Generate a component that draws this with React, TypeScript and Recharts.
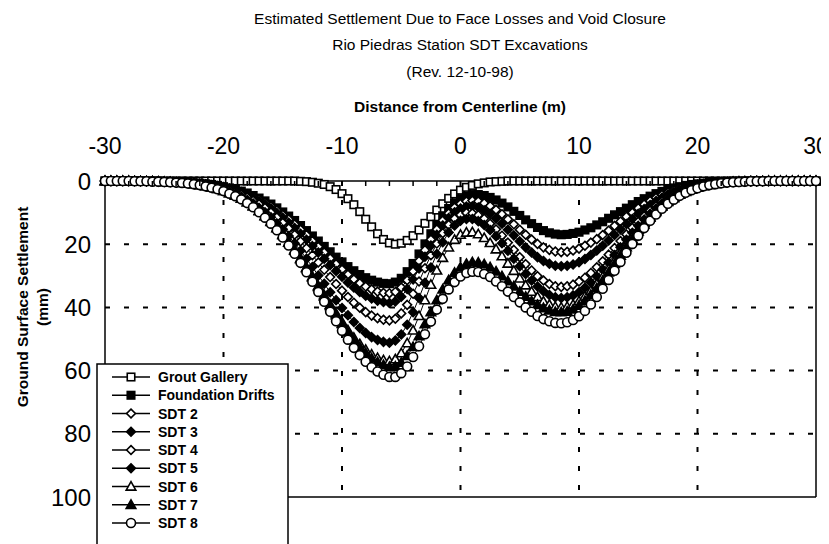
import React from 'react';
import { LineChart, Line, XAxis, YAxis, CartesianGrid, ReferenceLine } from 'recharts';

const FONT = '"Liberation Sans", Arial, Helvetica, sans-serif';

// Distance from centerline (m)
const distance = [
  -30, -29.5, -29, -28.5, -28, -27.5, -27, -26.5, -26, -25.5,
  -25, -24.5, -24, -23.5, -23, -22.5, -22, -21.5, -21, -20.5,
  -20, -19.5, -19, -18.5, -18, -17.5, -17, -16.5, -16, -15.5,
  -15, -14.5, -14, -13.5, -13, -12.5, -12, -11.5, -11, -10.5,
  -10, -9.5, -9, -8.5, -8, -7.5, -7, -6.5, -6, -5.5,
  -5, -4.5, -4, -3.5, -3, -2.5, -2, -1.5, -1, -0.5,
  0, 0.5, 1, 1.5, 2, 2.5, 3, 3.5, 4, 4.5,
  5, 5.5, 6, 6.5, 7, 7.5, 8, 8.5, 9, 9.5,
  10, 10.5, 11, 11.5, 12, 12.5, 13, 13.5, 14, 14.5,
  15, 15.5, 16, 16.5, 17, 17.5, 18, 18.5, 19, 19.5,
  20, 20.5, 21, 21.5, 22, 22.5, 23, 23.5, 24, 24.5,
  25, 25.5, 26, 26.5, 27, 27.5, 28, 28.5, 29, 29.5, 30,
];

// Settlement (mm)
const groutGallery = [
  0, 0, 0, 0, 0, 0, 0, 0, 0, 0,
  0, 0, 0, 0, 0, 0, 0, 0, 0, 0,
  0, 0, 0, 0, 0, 0, 0, 0, 0, 0,
  0, 0, 0, 0.1, 0.2, 0.4, 0.7, 1.1, 1.8, 2.7,
  4.0, 5.6, 7.5, 9.7, 12.1, 14.5, 16.7, 18.5, 19.6, 20.0,
  19.7, 18.8, 17.3, 15.5, 13.4, 11.3, 9.2, 7.2, 5.5, 4.1,
  2.9, 2.0, 1.4, 0.9, 0.6, 0.3, 0.2, 0.1, 0, 0,
  0, 0, 0, 0, 0, 0, 0, 0, 0, 0,
  0, 0, 0, 0, 0, 0, 0, 0, 0, 0,
  0, 0, 0, 0, 0, 0, 0, 0, 0, 0,
  0, 0, 0, 0, 0, 0, 0, 0, 0, 0,
  0, 0, 0, 0, 0, 0, 0, 0, 0, 0, 0,
];

const foundationDrifts = [
  0, 0, 0, 0, 0, 0, 0, 0.1, 0.1, 0.1,
  0.2, 0.2, 0.3, 0.3, 0.4, 0.6, 0.7, 0.9, 1.1, 1.4,
  1.8, 2.2, 2.6, 3.2, 3.8, 4.6, 5.4, 6.3, 7.3, 8.5,
  9.8, 11.1, 12.5, 14.1, 15.7, 17.4, 19.0, 20.7, 22.4, 24.1,
  25.6, 27.1, 28.4, 29.6, 30.6, 31.4, 32.0, 32.4, 32.5, 32.0,
  30.8, 28.7, 26.1, 23.1, 19.9, 16.7, 13.7, 11.0, 8.7, 6.9,
  5.6, 4.8, 4.3, 4.3, 4.6, 5.2, 6.0, 7.0, 8.2, 9.6,
  10.9, 12.3, 13.5, 14.7, 15.7, 16.4, 16.8, 17.0, 16.9, 16.6,
  16.2, 15.5, 14.8, 13.9, 12.9, 11.8, 10.7, 9.7, 8.6, 7.5,
  6.5, 5.6, 4.8, 4.0, 3.3, 2.7, 2.2, 1.8, 1.4, 1.1,
  0.9, 0.7, 0.5, 0.4, 0.3, 0.2, 0.1, 0.1, 0.1, 0,
  0, 0, 0, 0, 0, 0, 0, 0, 0, 0, 0,
];

const sdt2 = [
  0, 0, 0, 0, 0, 0, 0, 0.1, 0.1, 0.1,
  0.2, 0.2, 0.3, 0.4, 0.5, 0.6, 0.8, 1.0, 1.3, 1.6,
  1.9, 2.4, 2.9, 3.5, 4.2, 5.0, 5.9, 6.9, 8.0, 9.3,
  10.7, 12.1, 13.7, 15.4, 17.1, 19.0, 20.8, 22.6, 24.5, 26.3,
  28.0, 29.6, 31.1, 32.3, 33.4, 34.3, 35.0, 35.4, 35.5, 35.1,
  33.7, 31.4, 28.6, 25.3, 21.9, 18.5, 15.3, 12.5, 10.2, 8.4,
  7.2, 6.4, 6.2, 6.4, 7.0, 7.9, 9.1, 10.5, 12.1, 13.7,
  15.4, 17.0, 18.5, 19.9, 21.0, 21.8, 22.3, 22.5, 22.4, 22.0,
  21.4, 20.5, 19.5, 18.4, 17.1, 15.7, 14.2, 12.8, 11.3, 10.0,
  8.6, 7.4, 6.3, 5.3, 4.4, 3.6, 2.9, 2.3, 1.9, 1.5,
  1.1, 0.9, 0.7, 0.5, 0.4, 0.3, 0.2, 0.1, 0.1, 0.1,
  0, 0, 0, 0, 0, 0, 0, 0, 0, 0, 0,
];

const sdt3 = [
  0, 0, 0, 0, 0, 0, 0, 0.1, 0.1, 0.1,
  0.2, 0.2, 0.3, 0.4, 0.5, 0.7, 0.9, 1.1, 1.4, 1.7,
  2.1, 2.6, 3.1, 3.8, 4.5, 5.4, 6.4, 7.5, 8.7, 10.1,
  11.6, 13.2, 14.9, 16.7, 18.6, 20.6, 22.6, 24.6, 26.6, 28.5,
  30.3, 32.1, 33.7, 35.1, 36.3, 37.2, 37.9, 38.3, 38.6, 38.1,
  36.6, 34.2, 31.2, 27.7, 24.0, 20.4, 17.0, 14.1, 11.7, 9.9,
  8.7, 8.1, 8.0, 8.4, 9.3, 10.4, 11.9, 13.5, 15.4, 17.2,
  19.1, 21.0, 22.6, 24.1, 25.3, 26.2, 26.8, 27.0, 26.8, 26.4,
  25.7, 24.7, 23.4, 22.0, 20.5, 18.8, 17.1, 15.3, 13.6, 12.0,
  10.4, 8.9, 7.6, 6.3, 5.3, 4.3, 3.5, 2.8, 2.2, 1.7,
  1.4, 1.0, 0.8, 0.6, 0.4, 0.3, 0.2, 0.2, 0.1, 0.1,
  0.1, 0, 0, 0, 0, 0, 0, 0, 0, 0, 0,
];

const sdt4 = [
  0, 0, 0, 0, 0, 0, 0.1, 0.1, 0.1, 0.2,
  0.2, 0.3, 0.4, 0.5, 0.6, 0.8, 1.0, 1.2, 1.6, 1.9,
  2.4, 2.9, 3.6, 4.3, 5.2, 6.2, 7.3, 8.5, 9.9, 11.5,
  13.2, 15.0, 17.0, 19.1, 21.3, 23.5, 25.8, 28.1, 30.4, 32.6,
  34.7, 36.7, 38.5, 40.1, 41.5, 42.6, 43.4, 43.9, 44.1, 43.6,
  41.9, 39.2, 35.7, 31.8, 27.6, 23.5, 19.8, 16.5, 13.9, 11.9,
  10.7, 10.1, 10.2, 10.8, 11.9, 13.5, 15.3, 17.3, 19.5, 21.8,
  24.1, 26.3, 28.3, 30.1, 31.5, 32.6, 33.3, 33.5, 33.3, 32.8,
  31.8, 30.6, 29.1, 27.3, 25.4, 23.3, 21.2, 19.0, 16.9, 14.8,
  12.9, 11.1, 9.4, 7.9, 6.5, 5.4, 4.4, 3.5, 2.8, 2.2,
  1.7, 1.3, 1.0, 0.7, 0.5, 0.4, 0.3, 0.2, 0.1, 0.1,
  0.1, 0, 0, 0, 0, 0, 0, 0, 0, 0, 0,
];

const sdt5 = [
  0, 0, 0, 0, 0, 0, 0.1, 0.1, 0.1, 0.2,
  0.2, 0.3, 0.4, 0.5, 0.7, 0.9, 1.1, 1.4, 1.8, 2.2,
  2.8, 3.4, 4.1, 5.0, 6.0, 7.1, 8.5, 9.9, 11.5, 13.4,
  15.3, 17.4, 19.7, 22.1, 24.6, 27.2, 29.9, 32.5, 35.2, 37.7,
  40.2, 42.5, 44.6, 46.5, 48.1, 49.4, 50.3, 50.9, 51.2, 50.5,
  48.6, 45.5, 41.5, 37.0, 32.2, 27.4, 23.1, 19.4, 16.3, 14.1,
  12.6, 12.0, 12.0, 12.7, 13.9, 15.5, 17.5, 19.7, 22.1, 24.6,
  27.0, 29.4, 31.5, 33.4, 34.9, 36.1, 36.8, 37.0, 36.8, 36.2,
  35.2, 33.8, 32.1, 30.2, 28.0, 25.8, 23.4, 21.0, 18.6, 16.4,
  14.2, 12.2, 10.4, 8.7, 7.2, 5.9, 4.8, 3.8, 3.1, 2.4,
  1.9, 1.4, 1.1, 0.8, 0.6, 0.4, 0.3, 0.2, 0.2, 0.1,
  0.1, 0.1, 0, 0, 0, 0, 0, 0, 0, 0, 0,
];

const sdt6 = [
  0, 0, 0, 0, 0, 0.1, 0.1, 0.1, 0.1, 0.2,
  0.3, 0.4, 0.5, 0.6, 0.8, 1.0, 1.3, 1.6, 2.0, 2.5,
  3.1, 3.8, 4.6, 5.5, 6.7, 7.9, 9.4, 11.0, 12.8, 14.8,
  17.0, 19.4, 21.8, 24.5, 27.3, 30.2, 33.2, 36.1, 39.1, 41.9,
  44.6, 47.2, 49.6, 51.6, 53.4, 54.9, 56.0, 56.7, 57.0, 56.4,
  54.5, 51.3, 47.3, 42.7, 37.7, 32.8, 28.3, 24.3, 21.0, 18.6,
  17.0, 16.3, 16.2, 16.8, 18.0, 19.6, 21.6, 23.8, 26.1, 28.4,
  30.8, 33.0, 35.0, 36.7, 38.1, 39.1, 39.8, 40.0, 39.8, 39.1,
  38.0, 36.5, 34.7, 32.6, 30.3, 27.8, 25.3, 22.7, 20.2, 17.7,
  15.4, 13.2, 11.2, 9.4, 7.8, 6.4, 5.2, 4.2, 3.3, 2.6,
  2.0, 1.5, 1.2, 0.9, 0.6, 0.5, 0.3, 0.2, 0.2, 0.1,
  0.1, 0.1, 0, 0, 0, 0, 0, 0, 0, 0, 0,
];

const sdt7 = [
  0, 0, 0, 0, 0, 0.1, 0.1, 0.1, 0.1, 0.2,
  0.3, 0.4, 0.5, 0.6, 0.8, 1.0, 1.3, 1.6, 2.0, 2.5,
  3.1, 3.8, 4.6, 5.6, 6.7, 8.0, 9.5, 11.1, 12.9, 14.9,
  17.1, 19.5, 22.0, 24.7, 27.6, 30.5, 33.5, 36.5, 39.5, 42.4,
  45.2, 47.9, 50.3, 52.5, 54.4, 56.1, 57.3, 58.2, 58.8, 58.7,
  57.5, 55.3, 52.5, 49.1, 45.3, 41.5, 37.7, 34.3, 31.4, 29.0,
  27.3, 26.2, 25.7, 25.8, 26.3, 27.3, 28.6, 30.1, 31.7, 33.3,
  35.0, 36.6, 38.0, 39.2, 40.2, 40.9, 41.4, 41.5, 41.3, 40.6,
  39.4, 37.9, 36.0, 33.9, 31.5, 28.9, 26.2, 23.6, 20.9, 18.4,
  15.9, 13.7, 11.6, 9.8, 8.1, 6.6, 5.4, 4.3, 3.4, 2.7,
  2.1, 1.6, 1.2, 0.9, 0.7, 0.5, 0.4, 0.3, 0.2, 0.1,
  0.1, 0.1, 0, 0, 0, 0, 0, 0, 0, 0, 0,
];

const sdt8 = [
  0, 0, 0, 0, 0, 0.1, 0.1, 0.1, 0.2, 0.2,
  0.3, 0.4, 0.5, 0.6, 0.8, 1.0, 1.3, 1.7, 2.1, 2.6,
  3.2, 4.0, 4.8, 5.8, 7.0, 8.3, 9.9, 11.6, 13.5, 15.6,
  17.9, 20.4, 23.0, 25.9, 28.9, 31.9, 35.1, 38.2, 41.4, 44.4,
  47.4, 50.2, 52.8, 55.1, 57.2, 58.9, 60.3, 61.3, 62.0, 62.0,
  60.8, 58.7, 55.7, 52.3, 48.5, 44.5, 40.7, 37.3, 34.3, 32.0,
  30.2, 29.1, 28.7, 28.8, 29.4, 30.4, 31.8, 33.3, 35.0, 36.7,
  38.4, 40.0, 41.4, 42.7, 43.7, 44.4, 44.9, 45.0, 44.7, 44.0,
  42.8, 41.1, 39.1, 36.7, 34.1, 31.3, 28.4, 25.6, 22.7, 19.9,
  17.3, 14.9, 12.6, 10.6, 8.8, 7.2, 5.9, 4.7, 3.7, 2.9,
  2.3, 1.7, 1.3, 1.0, 0.7, 0.5, 0.4, 0.3, 0.2, 0.1,
  0.1, 0.1, 0, 0, 0, 0, 0, 0, 0, 0, 0,
];

const xTicks = [-30, -28, -26, -24, -22, -20, -18, -16, -14, -12, -10, -8, -6, -4, -2, 0, 2, 4, 6, 8, 10, 12, 14, 16, 18, 20, 22, 24, 26, 28, 30];
const xLabelTicks = [-30, -20, -10, 0, 10, 20, 30];
const yTicks = [0, 20, 40, 60, 80, 100];
const gridX = [-20, -10, 0, 10, 20];
const gridY = [20, 40, 60, 80];

const titleLines = [
  'Estimated Settlement Due to Face Losses and Void Closure',
  'Rio Piedras Station SDT Excavations',
  '(Rev. 12-10-98)',
];
const xAxisTitle = 'Distance from Centerline (m)';
const yAxisTitle = ['Ground Surface Settlement', '(mm)'];

type Shape = 'square' | 'diamond' | 'triangle' | 'circle';
interface Series { key: string; name: string; values: number[]; shape: Shape; filled: boolean; }

const seriesList: Series[] = [
  { key: 'grout', name: 'Grout Gallery', values: groutGallery, shape: 'square', filled: false },
  { key: 'fd', name: 'Foundation Drifts', values: foundationDrifts, shape: 'square', filled: true },
  { key: 'sdt2', name: 'SDT 2', values: sdt2, shape: 'diamond', filled: false },
  { key: 'sdt3', name: 'SDT 3', values: sdt3, shape: 'diamond', filled: true },
  { key: 'sdt4', name: 'SDT 4', values: sdt4, shape: 'diamond', filled: false },
  { key: 'sdt5', name: 'SDT 5', values: sdt5, shape: 'diamond', filled: true },
  { key: 'sdt6', name: 'SDT 6', values: sdt6, shape: 'triangle', filled: false },
  { key: 'sdt7', name: 'SDT 7', values: sdt7, shape: 'triangle', filled: true },
  { key: 'sdt8', name: 'SDT 8', values: sdt8, shape: 'circle', filled: false },
];

const chartData = distance.map((x, i) => {
  const row: Record<string, number> = { x };
  seriesList.forEach((s) => { row[s.key] = s.values[i]; });
  return row;
});

function MarkerShape({ cx, cy, shape, filled }: { cx: number; cy: number; shape: Shape; filled: boolean }) {
  if (cx == null || cy == null || isNaN(cx) || isNaN(cy)) return <g />;
  const common = { fill: filled ? '#000' : '#fff', stroke: '#000', strokeWidth: 1.6 };
  if (shape === 'square') {
    const s = 7.5;
    return <rect x={cx - s / 2} y={cy - s / 2} width={s} height={s} {...common} />;
  }
  if (shape === 'diamond') {
    const r = 4.4;
    return <polygon points={`${cx},${cy - r} ${cx + r},${cy} ${cx},${cy + r} ${cx - r},${cy}`} {...common} />;
  }
  if (shape === 'triangle') {
    const r = 4.8;
    return <polygon points={`${cx},${cy - r} ${cx + r},${cy + r * 0.75} ${cx - r},${cy + r * 0.75}`} {...common} />;
  }
  return <circle cx={cx} cy={cy} r={4.5} {...common} />;
}

const TopTick = (props: any) => {
  const { x, y, payload } = props;
  const v = payload.value;
  const major = xLabelTicks.includes(v);
  return (
    <g>
      {!major && <line x1={x} x2={x} y1={y} y2={y + 5} stroke="#000" strokeWidth={1.5} />}
      {major && (
        <text x={x} y={y - 27} textAnchor="middle" fontSize={23} fill="#000" fontFamily={FONT}>
          {String(v)}
        </text>
      )}
    </g>
  );
};

export default function App() {
  const legendTop = 356;
  const rowGap = 18.25;
  return (
    <div style={{ position: 'relative', width: 821, height: 536, overflow: 'hidden', background: '#fff' }}>
      <LineChart width={821} height={536} data={chartData} margin={{ top: 133, right: 13, left: 0, bottom: 47 }} style={{ overflow: 'visible' }}>
        <CartesianGrid
          vertical
          horizontal
          verticalValues={gridX}
          horizontalValues={gridY}
          stroke="#000"
          strokeWidth={2}
          strokeDasharray="5 14"
        />
        <XAxis
          dataKey="x"
          type="number"
          orientation="top"
          domain={[-30, 30]}
          ticks={xTicks}
          interval={0}
          height={40}
          tickSize={0}
          tickMargin={0}
          tickLine={false}
          axisLine={{ stroke: '#000', strokeWidth: 1.5 }}
          tick={(p: any) => <TopTick {...p} />}
        />
        <YAxis
          type="number"
          domain={[0, 100]}
          reversed
          ticks={yTicks}
          interval={0}
          width={97}
          tickSize={0}
          tickMargin={14}
          tickLine={false}
          axisLine={{ stroke: '#000', strokeWidth: 1.5 }}
          tick={{ fill: '#000', fontSize: 24, fontFamily: FONT }}
        />
        <ReferenceLine x={30} stroke="#000" strokeWidth={1.5} />
        <ReferenceLine y={100} stroke="#000" strokeWidth={1.5} />
        {seriesList.map((s) => (
          <Line
            key={s.key}
            dataKey={s.key}
            name={s.name}
            type="linear"
            stroke="#000"
            strokeWidth={1}
            isAnimationActive={false}
            activeDot={false}
            dot={(p: any) => (
              <MarkerShape key={`${s.key}-${p.index}`} cx={p.cx} cy={p.cy} shape={s.shape} filled={s.filled} />
            )}
          />
        ))}
      </LineChart>
      <svg
        width={821}
        height={536}
        style={{ position: 'absolute', left: 0, top: 0, pointerEvents: 'none' }}
        fontFamily={FONT}
      >
        {titleLines.map((t, i) => (
          <text key={t} x={452} y={15.5 + i * 26.5} textAnchor="middle" fontSize={15.5} fill="#000">
            {t}
          </text>
        ))}
        <text x={452} y={103.5} textAnchor="middle" fontSize={15.5} fontWeight="bold" fill="#000">
          {xAxisTitle}
        </text>
        <text transform="translate(19.5,299) rotate(-90)" textAnchor="middle" fontSize={15.5} fontWeight="bold" fill="#000">
          {yAxisTitle[0]}
        </text>
        <text transform="translate(40,299) rotate(-90)" textAnchor="middle" fontSize={15.5} fontWeight="bold" fill="#000">
          {yAxisTitle[1]}
        </text>
        <g>
          <rect x={89} y={legendTop} width={191} height={220} fill="#fff" stroke="#000" strokeWidth={1.5} />
          {seriesList.map((s, i) => {
            const cy = legendTop + 13 + i * rowGap;
            return (
              <g key={s.key}>
                <line x1={104} x2={142} y1={cy} y2={cy} stroke="#000" strokeWidth={1.5} />
                <MarkerShape cx={123} cy={cy} shape={s.shape} filled={s.filled} />
                <text x={150} y={cy + 5} fontSize={14} fontWeight="bold" fill="#000">
                  {s.name}
                </text>
              </g>
            );
          })}
        </g>
      </svg>
    </div>
  );
}
